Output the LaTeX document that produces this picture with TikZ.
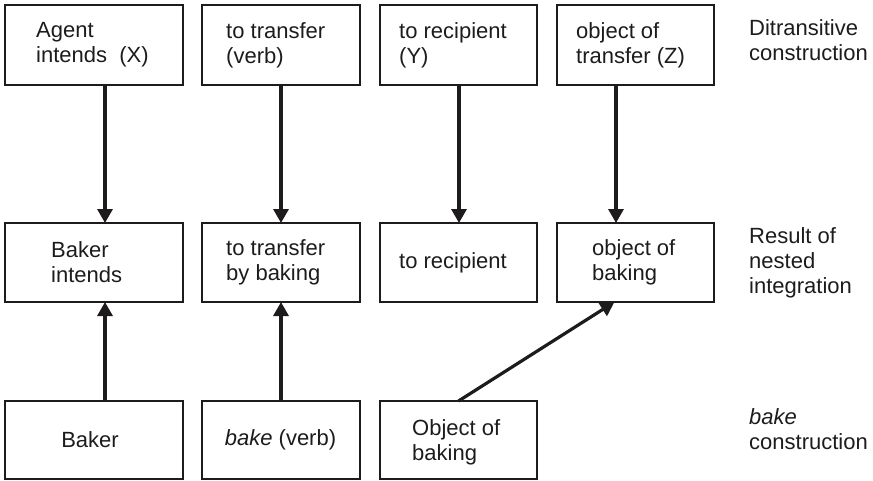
\documentclass[tikz,border=0pt]{standalone}
\usepackage{fontspec}
\setmainfont{Liberation Sans}
\usetikzlibrary{arrows.meta}
\definecolor{ink}{RGB}{30,27,28}
\begin{document}
\begin{tikzpicture}[x=1pt,y=-1pt,
  box/.style={draw=ink, line width=1.7pt, inner sep=0pt, outer sep=0pt},
  txt/.style={font=\fontsize{22}{25}\selectfont, text=ink, align=left, inner sep=0pt, anchor=west},
  ctxt/.style={txt, anchor=center, align=center},
  link/.style={draw=ink, line width=3.2pt, -{Triangle[width=15pt,length=14pt]}},
]
\useasboundingbox (0,0) rectangle (873,480);

% top row: ditransitive construction
\node[box, minimum width=178pt, minimum height=80pt] (t1) at (94,45) {};
\node[box, minimum width=158pt, minimum height=80pt] (t2) at (281,45) {};
\node[box, minimum width=157pt, minimum height=80pt] (t3) at (458.5,45) {};
\node[box, minimum width=157pt, minimum height=80pt] (t4) at (635.5,45) {};
\node[txt] (t1x) at (36,45) {Agent\\intends~~(X)};
\node[txt] (t2x) at (226,45) {to transfer\\(verb)};
\node[txt] (t3x) at (399,45) {to recipient\\(Y)};
\node[txt] (t4x) at (576,45) {object of\\transfer (Z)};

% middle row: result of nested integration
\node[box, minimum width=178pt, minimum height=79pt] (m1) at (94,262.5) {};
\node[box, minimum width=158pt, minimum height=79pt] (m2) at (281,262.5) {};
\node[box, minimum width=157pt, minimum height=79pt] (m3) at (458.5,262.5) {};
\node[box, minimum width=157pt, minimum height=79pt] (m4) at (635.5,262.5) {};
\node[txt] (m1x) at (51,262.5) {Baker\\intends};
\node[txt] (m2x) at (226,262.5) {to transfer\\by baking};
\node[txt] (m3x) at (399,262.5) {to recipient};
\node[txt] (m4x) at (592,262.5) {object of\\baking};

% bottom row: bake construction
\node[box, minimum width=178pt, minimum height=78pt] (b1) at (94,440) {};
\node[box, minimum width=158pt, minimum height=78pt] (b2) at (281,440) {};
\node[box, minimum width=157pt, minimum height=78pt] (b3) at (458.5,440) {};
\node[ctxt] (b1x) at (90,440) {Baker};
\node[ctxt] (b2x) at (280.5,440) {\textit{bake} (verb)};
\node[txt] (b3x) at (412,442) {Object of\\baking};

% row labels
\node[txt] (l1) at (749,40) {Ditransitive\\construction};
\node[txt] (l2) at (749,263) {Result of\\nested\\integration};
\node[txt] (l3) at (749,429) {\textit{bake}\\construction};

% connectors
\draw[link] ([xshift=11pt]t1.south) -- ([xshift=11pt]m1.north);
\draw[link] (t2.south) -- (m2.north);
\draw[link] ([xshift=0.5pt]t3.south) -- ([xshift=0.5pt]m3.north);
\draw[link] ([xshift=-19.5pt]t4.south) -- ([xshift=-19.5pt]m4.north);
\draw[link] ([xshift=11pt]b1.north) -- ([xshift=11pt]m1.south);
\draw[link] (b2.north) -- (m2.south);
\draw[link] (b3.north) -- ([xshift=-21pt]m4.south);
\end{tikzpicture}
\end{document}
